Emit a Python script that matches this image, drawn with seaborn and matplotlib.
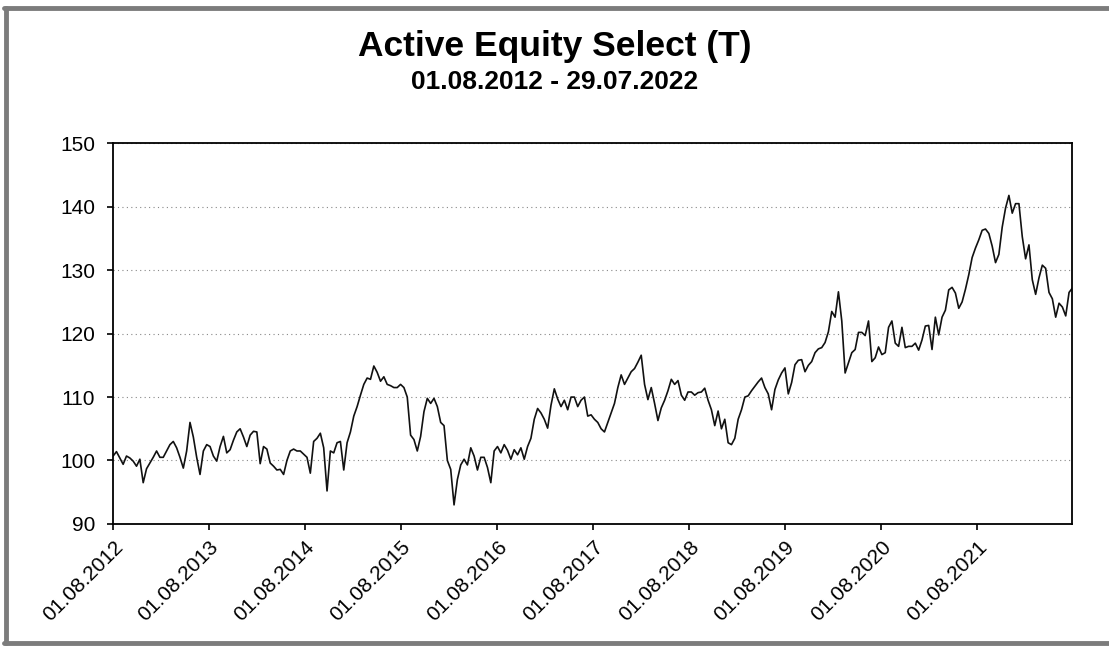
import numpy as np
import pandas as pd
import matplotlib
matplotlib.use("Agg")
import matplotlib.pyplot as plt
import matplotlib.dates as mdates
from matplotlib.lines import Line2D
import seaborn as sns

# --- data (roughly two samples per month) ---
start_date = "2012-08-01"
end_date = "2022-07-29"

values_2012_2013 = [
    100.7, 101.4, 100.4, 99.4, 100.7, 100.4, 99.9, 99.1, 100.2, 96.5,
    98.7, 99.6, 100.5, 101.5, 100.5, 100.5, 101.5, 102.5, 103.0, 102.0,
    100.5, 98.8, 101.5, 106.0, 103.7, 100.5, 97.8, 101.5, 102.5, 102.2,
    100.7, 99.9, 102.2, 103.8, 101.2, 101.7, 103.2, 104.5, 105.0, 103.7,
    102.2, 104.0, 104.6, 104.5, 99.5,
]
values_2014_2015 = [
    102.2, 101.8, 99.6, 99.1, 98.5, 98.6, 97.8, 100.0, 101.5, 101.8,
    101.5, 101.5, 101.0, 100.5, 98.0, 103.0, 103.5, 104.3, 102.0, 95.2,
    101.5, 101.2, 102.8, 103.0, 98.5, 102.8, 104.5, 107.0, 108.5, 110.3,
    112.0, 113.0, 112.8, 114.9, 113.9, 112.5, 113.2, 112.0, 111.8, 111.5,
    111.5, 112.0, 111.5, 110.0, 104.0, 103.3, 101.5, 103.8,
]
values_2015_2017 = [
    107.7, 109.8, 109.0, 109.8, 108.5, 106.0, 105.5, 100.0, 98.6, 93.0,
    97.0, 99.3, 100.2, 99.3, 102.0, 100.7, 98.5, 100.5, 100.5, 98.9,
    96.5, 101.5, 102.2, 101.2, 102.5, 101.6, 100.2, 101.7, 100.9, 102.0,
    100.2, 102.2, 103.5, 106.5, 108.2, 107.5, 106.5, 105.1, 108.7, 111.3,
    109.7, 108.5, 109.5, 108.0, 110.0, 110.0, 108.5, 109.5,
]
values_2017_2018 = [
    110.0, 107.0, 107.2, 106.5, 106.0, 105.0, 104.5, 106.0, 107.5, 109.0,
    111.5, 113.5, 112.0, 113.0, 114.0, 114.5, 115.5, 116.6, 112.0, 109.6,
    111.5, 109.0, 106.3, 108.3, 109.5, 111.0, 112.8, 112.0, 112.6, 110.3,
    109.5, 110.8, 110.8, 110.3, 110.7, 110.8, 111.4, 109.5, 108.0, 105.5,
    107.8, 105.0, 106.5, 102.8, 102.5, 103.5, 106.5, 108.0,
]
values_2018_2020 = [
    110.0, 110.2, 111.0, 111.7, 112.4, 113.0, 111.5, 110.5, 108.0, 111.2,
    112.7, 113.8, 114.6, 110.5, 112.3, 115.1, 115.8, 115.9, 114.0, 115.0,
    115.6, 117.0, 117.6, 117.8, 118.6, 120.3, 123.5, 122.6, 126.6, 122.0,
    113.8, 115.4, 117.0, 117.5, 120.2, 120.2, 119.7, 122.0, 115.6, 116.2,
    117.9, 116.7, 117.0, 121.0, 122.0, 118.5, 118.0, 121.0,
]
values_2020_2022 = [
    117.8, 118.0, 118.0, 118.5, 117.4, 119.0, 121.2, 121.3, 117.5, 122.6,
    119.8, 122.6, 123.7, 126.9, 127.3, 126.4, 124.0, 125.0, 127.0, 129.3,
    132.0, 133.5, 134.8, 136.3, 136.5, 135.8, 133.8, 131.2, 132.5, 136.8,
    139.8, 141.8, 139.0, 140.5, 140.5, 135.3, 131.8, 134.0, 128.5, 126.2,
    128.8, 130.8, 130.3, 126.5, 125.5, 122.6, 124.8, 124.2, 122.8, 126.5,
    127.2,
]

tick_years = list(range(2012, 2022))
y_ticks = [90, 100, 110, 120, 130, 140, 150]

title = "Active Equity Select (T)"
subtitle = "01.08.2012 - 29.07.2022"

values = (values_2012_2013 + values_2014_2015 + values_2015_2017
          + values_2017_2018 + values_2018_2020 + values_2020_2022)
dates = pd.date_range(start_date, end_date, periods=len(values))
df = pd.DataFrame({"date": dates, "value": values})

# --- plot ---
sns.set_theme(style="white")
plt.rcParams["font.family"] = ["Liberation Sans", "DejaVu Sans"]
plt.rcParams["text.color"] = "black"

fig = plt.figure(figsize=(11.09, 6.46), dpi=100)
ax = fig.add_axes([0.102, 0.189, 0.865, 0.589])

sns.lineplot(data=df, x="date", y="value", ax=ax, color="#111111", linewidth=1.2)

ax.set_ylim(90, 150)
ax.set_xlim(pd.Timestamp(start_date), pd.Timestamp(end_date))
ax.set_yticks(y_ticks)
ax.set_xticks([pd.Timestamp(f"{y}-08-01") for y in tick_years])
ax.xaxis.set_major_formatter(mdates.DateFormatter("%d.%m.%Y"))

ax.set_xlabel("")
ax.set_ylabel("")
ax.tick_params(axis="both", which="major", direction="out", length=4, width=1.2,
               color="black", labelsize=15, labelcolor="black", bottom=True, left=True)
ax.tick_params(axis="y", pad=9)
ax.tick_params(axis="x", pad=6)
plt.setp(ax.get_xticklabels(), rotation=45, ha="right", rotation_mode="anchor")

ax.yaxis.grid(True, linestyle=(0, (1, 3)), color="#888888", linewidth=0.8)
ax.xaxis.grid(False)
for side in ["left", "right", "top", "bottom"]:
    ax.spines[side].set_visible(True)
    ax.spines[side].set_color("black")
    ax.spines[side].set_linewidth(1.3)

fig.text(0.5, 0.928, title, ha="center", va="center", fontsize=25.5,
         fontweight="bold", color="black")
fig.text(0.5, 0.873, subtitle, ha="center", va="center", fontsize=19,
         fontweight="bold", color="black")

# scanned page frame (top, left and bottom edges; right edge is cut off)
frame_kw = dict(transform=fig.transFigure, color="#7c7c7c", linewidth=3.5)
fig.lines.append(Line2D([0.004, 1.0], [0.988, 0.988], **frame_kw))
fig.lines.append(Line2D([0.005, 0.005], [0.005, 0.988], **frame_kw))
fig.lines.append(Line2D([0.004, 1.0], [0.005, 0.005], **frame_kw))

fig.savefig("out.png", dpi=100)
plt.close(fig)
